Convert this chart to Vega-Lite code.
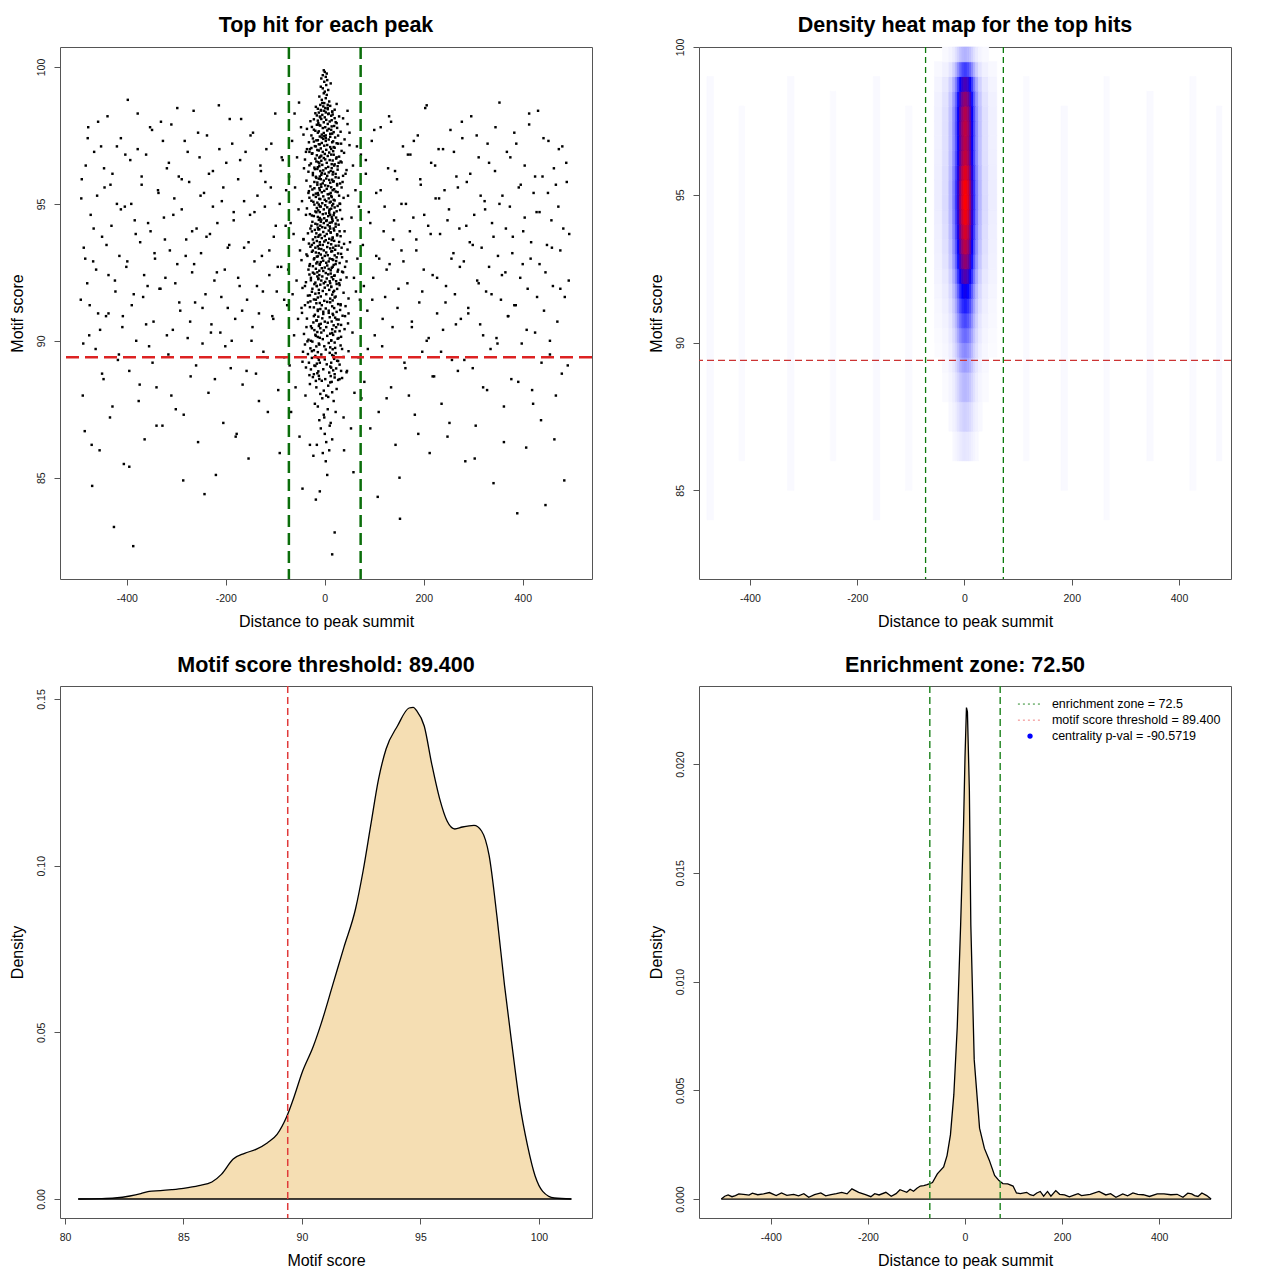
{
  "$schema": "https://vega.github.io/schema/vega-lite/v6.json",
  "background": "white",
  "padding": {"left": 8, "top": 14, "right": 5, "bottom": 5},
  "columns": 2,
  "spacing": {"row": 24, "column": 53},
  "datasets": {
    "hits": [
      {"x":-493,"y":91.5},{"x":-491,"y":95.9},{"x":-489,"y":88.0},{"x":-487,"y":93.4},{"x":-485,"y":86.7},{"x":-483,"y":96.4},{"x":-480,"y":92.1},{"x":-478,"y":97.8},{"x":-476,"y":90.2},{"x":-473,"y":94.6},{"x":-470,"y":84.7},{"x":-468,"y":92.9},{"x":-466,"y":96.9},{"x":-463,"y":89.7},{"x":-460,"y":95.3},{"x":-458,"y":91.0},{"x":-455,"y":86.0},{"x":-452,"y":97.1},{"x":-450,"y":93.8},{"x":-447,"y":88.6},{"x":-445,"y":95.6},{"x":-442,"y":90.9},{"x":-439,"y":98.2},{"x":-437,"y":92.4},{"x":-434,"y":87.2},{"x":-431,"y":94.2},{"x":-429,"y":96.1},{"x":-426,"y":83.2},{"x":-423,"y":91.8},{"x":-420,"y":95.0},{"x":-418,"y":89.3},{"x":-415,"y":93.1},{"x":-412,"y":97.4},{"x":-409,"y":90.5},{"x":-406,"y":85.5},{"x":-404,"y":94.9},{"x":-401,"y":92.7},{"x":-398,"y":98.8},{"x":-395,"y":88.9},{"x":-393,"y":96.6},{"x":-390,"y":91.3},{"x":-387,"y":82.5},{"x":-384,"y":94.4},{"x":-381,"y":90.0},{"x":-378,"y":97.0},{"x":-376,"y":87.8},{"x":-373,"y":93.6},{"x":-370,"y":95.7},{"x":-367,"y":91.6},{"x":-364,"y":86.4},{"x":-361,"y":96.8},{"x":-358,"y":92.0},{"x":-355,"y":89.8},{"x":-352,"y":94.0},{"x":-349,"y":97.7},{"x":-346,"y":90.7},{"x":-343,"y":93.0},{"x":-340,"y":88.3},{"x":-337,"y":95.5},{"x":-334,"y":91.9},{"x":-331,"y":98.0},{"x":-328,"y":86.9},{"x":-325,"y":94.5},{"x":-322,"y":92.3},{"x":-319,"y":96.3},{"x":-316,"y":89.5},{"x":-313,"y":93.3},{"x":-310,"y":97.9},{"x":-307,"y":90.4},{"x":-304,"y":95.2},{"x":-301,"y":87.5},{"x":-298,"y":92.8},{"x":-295,"y":96.0},{"x":-292,"y":91.1},{"x":-289,"y":94.8},{"x":-286,"y":84.9},{"x":-283,"y":97.3},{"x":-280,"y":93.7},{"x":-277,"y":90.1},{"x":-274,"y":95.8},{"x":-271,"y":88.7},{"x":-268,"y":92.5},{"x":-265,"y":98.4},{"x":-262,"y":91.4},{"x":-259,"y":94.1},{"x":-256,"y":86.3},{"x":-253,"y":96.7},{"x":-250,"y":93.2},{"x":-247,"y":89.9},{"x":-244,"y":95.4},{"x":-241,"y":91.7},{"x":-238,"y":97.5},{"x":-235,"y":88.1},{"x":-232,"y":93.9},{"x":-229,"y":90.6},{"x":-226,"y":96.2},{"x":-223,"y":92.2},{"x":-220,"y":85.1},{"x":-217,"y":94.3},{"x":-214,"y":98.6},{"x":-211,"y":90.3},{"x":-208,"y":95.1},{"x":-205,"y":87.0},{"x":-202,"y":92.6},{"x":-199,"y":96.5},{"x":-196,"y":91.2},{"x":-193,"y":93.5},{"x":-190,"y":89.0},{"x":-187,"y":97.2},{"x":-184,"y":94.7},{"x":-181,"y":90.8},{"x":-178,"y":86.6},{"x":-175,"y":95.9},{"x":-172,"y":92.0},{"x":-169,"y":98.1},{"x":-166,"y":88.4},{"x":-163,"y":93.4},{"x":-160,"y":96.9},{"x":-157,"y":91.5},{"x":-154,"y":85.7},{"x":-151,"y":94.6},{"x":-148,"y":90.0},{"x":-145,"y":97.6},{"x":-142,"y":92.9},{"x":-139,"y":88.8},{"x":-136,"y":95.3},{"x":-133,"y":91.0},{"x":-130,"y":96.4},{"x":-127,"y":93.1},{"x":-124,"y":89.6},{"x":-121,"y":94.9},{"x":-118,"y":97.0},{"x":-115,"y":87.4},{"x":-112,"y":92.4},{"x":-109,"y":95.6},{"x":-106,"y":90.9},{"x":-103,"y":93.8},{"x":-100,"y":98.3},{"x":-97,"y":91.8},{"x":-94,"y":88.2},{"x":-91,"y":95.0},{"x":-88,"y":92.7},{"x":-85,"y":96.6},{"x":-82,"y":89.4},{"x":-79,"y":94.2},{"x":-76,"y":91.3},
      {"x":77,"y":93.5},{"x":80,"y":88.5},{"x":83,"y":96.1},{"x":86,"y":91.1},{"x":89,"y":94.7},{"x":92,"y":86.8},{"x":95,"y":97.3},{"x":98,"y":92.3},{"x":101,"y":90.2},{"x":104,"y":95.4},{"x":107,"y":84.3},{"x":110,"y":93.0},{"x":113,"y":97.8},{"x":116,"y":89.8},{"x":119,"y":94.0},{"x":122,"y":91.6},{"x":125,"y":87.9},{"x":128,"y":96.3},{"x":131,"y":92.8},{"x":134,"y":98.0},{"x":137,"y":90.5},{"x":140,"y":94.4},{"x":143,"y":86.2},{"x":146,"y":95.9},{"x":149,"y":91.9},{"x":152,"y":83.5},{"x":155,"y":93.3},{"x":158,"y":97.1},{"x":161,"y":89.2},{"x":164,"y":95.0},{"x":167,"y":92.1},{"x":170,"y":88.0},{"x":173,"y":96.8},{"x":176,"y":90.7},{"x":179,"y":94.5},{"x":182,"y":87.3},{"x":185,"y":93.7},{"x":188,"y":97.5},{"x":191,"y":91.4},{"x":194,"y":95.7},{"x":197,"y":89.6},{"x":200,"y":92.6},{"x":203,"y":98.5},{"x":206,"y":90.0},{"x":209,"y":94.2},{"x":212,"y":85.9},{"x":215,"y":96.5},{"x":218,"y":92.4},{"x":221,"y":88.7},{"x":224,"y":95.2},{"x":227,"y":91.0},{"x":230,"y":97.0},{"x":233,"y":93.9},{"x":236,"y":87.7},{"x":239,"y":90.4},{"x":242,"y":95.5},{"x":245,"y":92.0},{"x":248,"y":86.5},{"x":251,"y":94.8},{"x":254,"y":97.7},{"x":257,"y":89.3},{"x":260,"y":93.2},{"x":263,"y":91.7},{"x":266,"y":96.0},{"x":269,"y":88.9},{"x":272,"y":94.1},{"x":275,"y":90.8},{"x":278,"y":97.4},{"x":281,"y":92.9},{"x":284,"y":85.6},{"x":287,"y":95.8},{"x":290,"y":91.2},{"x":293,"y":93.6},{"x":296,"y":98.2},{"x":299,"y":89.0},{"x":302,"y":94.6},{"x":305,"y":86.9},{"x":308,"y":92.2},{"x":311,"y":96.7},{"x":314,"y":90.6},{"x":317,"y":93.4},{"x":320,"y":88.3},{"x":323,"y":95.1},{"x":326,"y":91.8},{"x":329,"y":97.2},{"x":332,"y":92.7},{"x":335,"y":89.7},{"x":338,"y":94.3},{"x":341,"y":84.8},{"x":344,"y":96.2},{"x":347,"y":90.1},{"x":350,"y":93.1},{"x":353,"y":98.7},{"x":356,"y":91.5},{"x":359,"y":95.3},{"x":362,"y":87.6},{"x":365,"y":92.5},{"x":368,"y":96.9},{"x":371,"y":90.9},{"x":374,"y":94.9},{"x":377,"y":88.6},{"x":380,"y":93.8},{"x":383,"y":97.6},{"x":386,"y":91.3},{"x":389,"y":83.7},{"x":392,"y":95.6},{"x":395,"y":92.3},{"x":398,"y":89.9},{"x":401,"y":94.0},{"x":404,"y":96.4},{"x":407,"y":86.1},{"x":410,"y":91.9},{"x":413,"y":97.9},{"x":416,"y":93.0},{"x":419,"y":88.2},{"x":422,"y":95.4},{"x":425,"y":90.3},{"x":428,"y":94.7},{"x":431,"y":98.4},{"x":434,"y":92.8},{"x":437,"y":87.1},{"x":440,"y":96.0},{"x":443,"y":91.1},{"x":446,"y":84.0},{"x":449,"y":93.5},{"x":452,"y":97.3},{"x":455,"y":89.5},{"x":458,"y":94.4},{"x":461,"y":92.0},{"x":464,"y":86.4},{"x":467,"y":95.7},{"x":470,"y":90.7},{"x":473,"y":97.0},{"x":476,"y":93.3},{"x":479,"y":88.8},{"x":482,"y":94.1},{"x":485,"y":91.6},{"x":488,"y":96.5},{"x":491,"y":89.1},{"x":494,"y":93.9},
      {"x":-492,"y":95.2},{"x":-488,"y":89.9},{"x":-484,"y":93.0},{"x":-479,"y":97.4},{"x":-475,"y":91.3},{"x":-471,"y":86.2},{"x":-467,"y":94.1},{"x":-462,"y":92.6},{"x":-458,"y":98.0},{"x":-454,"y":90.4},{"x":-450,"y":88.8},{"x":-446,"y":96.3},{"x":-441,"y":93.5},{"x":-437,"y":91.0},{"x":-433,"y":95.7},{"x":-429,"y":87.6},{"x":-424,"y":92.2},{"x":-420,"y":97.1},{"x":-416,"y":89.5},{"x":-412,"y":94.8},{"x":-408,"y":90.9},{"x":-403,"y":96.8},{"x":-399,"y":92.9},{"x":-395,"y":85.4},{"x":-391,"y":95.0},{"x":-386,"y":91.7},{"x":-382,"y":93.9},{"x":-378,"y":98.3},{"x":-374,"y":88.4},{"x":-370,"y":96.0},{"x":-365,"y":92.4},{"x":-361,"y":90.6},{"x":-357,"y":94.3},{"x":-353,"y":97.8},{"x":-348,"y":89.2},{"x":-344,"y":93.2},{"x":-340,"y":86.9},{"x":-336,"y":95.4},{"x":-332,"y":91.9},{"x":-327,"y":97.3},{"x":-323,"y":93.7},{"x":-319,"y":90.2},{"x":-315,"y":96.5},{"x":-310,"y":88.0},{"x":-306,"y":94.6},{"x":-302,"y":92.1},{"x":-298,"y":98.5},{"x":-294,"y":91.4},{"x":-289,"y":95.9},{"x":-285,"y":87.3},{"x":-281,"y":93.1},{"x":-277,"y":96.9},{"x":-272,"y":90.7},{"x":-268,"y":94.0},{"x":-264,"y":92.8},{"x":-260,"y":89.1},{"x":-256,"y":97.6},{"x":-251,"y":95.3},{"x":-247,"y":91.2},{"x":-243,"y":84.4},{"x":-239,"y":93.8},{"x":-234,"y":96.1},{"x":-230,"y":90.3},{"x":-226,"y":94.9},{"x":-222,"y":88.6},{"x":-218,"y":92.5},{"x":-213,"y":97.0},{"x":-209,"y":91.6},{"x":-205,"y":95.6},{"x":-201,"y":89.8},{"x":-196,"y":93.4},{"x":-192,"y":98.1},{"x":-188,"y":90.0},{"x":-184,"y":94.4},{"x":-180,"y":86.5},{"x":-175,"y":92.3},{"x":-171,"y":96.6},{"x":-167,"y":91.1},{"x":-163,"y":95.1},{"x":-158,"y":88.9},{"x":-154,"y":93.6},{"x":-150,"y":97.5},{"x":-146,"y":90.5},{"x":-142,"y":94.7},{"x":-137,"y":92.0},{"x":-133,"y":87.8},{"x":-129,"y":96.2},{"x":-125,"y":91.8},{"x":-120,"y":95.8},{"x":-116,"y":89.4},{"x":-112,"y":93.3},{"x":-108,"y":97.2},{"x":-104,"y":90.8},{"x":-99,"y":94.2},{"x":-95,"y":92.7},{"x":-91,"y":85.9},{"x":-87,"y":96.7},{"x":-82,"y":91.5},{"x":-78,"y":95.5},
      {"x":79,"y":92.0},{"x":83,"y":96.6},{"x":87,"y":89.7},{"x":92,"y":94.3},{"x":96,"y":91.5},{"x":100,"y":97.7},{"x":104,"y":93.1},{"x":109,"y":87.4},{"x":113,"y":95.5},{"x":117,"y":90.8},{"x":121,"y":94.9},{"x":125,"y":92.6},{"x":130,"y":98.2},{"x":134,"y":88.3},{"x":138,"y":93.7},{"x":142,"y":96.2},{"x":147,"y":91.2},{"x":151,"y":85.0},{"x":155,"y":95.0},{"x":159,"y":92.9},{"x":163,"y":89.0},{"x":168,"y":96.8},{"x":172,"y":94.0},{"x":176,"y":90.5},{"x":180,"y":97.3},{"x":185,"y":93.3},{"x":189,"y":86.6},{"x":193,"y":95.9},{"x":197,"y":91.8},{"x":201,"y":94.6},{"x":206,"y":98.6},{"x":210,"y":90.1},{"x":214,"y":93.9},{"x":218,"y":88.7},{"x":223,"y":96.4},{"x":227,"y":92.3},{"x":231,"y":95.2},{"x":235,"y":89.6},{"x":239,"y":97.0},{"x":244,"y":91.4},{"x":248,"y":94.4},{"x":252,"y":87.0},{"x":256,"y":93.0},{"x":261,"y":96.9},{"x":265,"y":90.6},{"x":269,"y":95.6},{"x":273,"y":92.7},{"x":277,"y":98.0},{"x":282,"y":89.3},{"x":286,"y":94.2},{"x":290,"y":91.0},{"x":294,"y":96.1},{"x":299,"y":93.5},{"x":303,"y":85.7},{"x":307,"y":97.5},{"x":311,"y":92.1},{"x":315,"y":95.3},{"x":320,"y":90.2},{"x":324,"y":94.8},{"x":328,"y":88.2},{"x":332,"y":96.5},{"x":337,"y":91.7},{"x":341,"y":93.8},{"x":345,"y":97.8},{"x":349,"y":89.9},{"x":353,"y":95.0},{"x":358,"y":92.4},{"x":362,"y":86.3},{"x":366,"y":94.1},{"x":370,"y":90.9},{"x":375,"y":96.7},{"x":379,"y":93.2},{"x":383,"y":91.3},{"x":387,"y":97.2},{"x":391,"y":88.5},{"x":396,"y":95.7},{"x":400,"y":92.8},{"x":404,"y":94.5},{"x":408,"y":90.4},{"x":413,"y":98.3},{"x":417,"y":93.6},{"x":421,"y":87.7},{"x":425,"y":96.0},{"x":429,"y":91.6},{"x":434,"y":94.7},{"x":438,"y":89.2},{"x":442,"y":97.4},{"x":446,"y":92.5},{"x":451,"y":95.4},{"x":455,"y":90.0},{"x":459,"y":93.4},{"x":463,"y":96.3},{"x":467,"y":88.0},{"x":472,"y":94.9},{"x":476,"y":91.9},{"x":480,"y":97.1},{"x":484,"y":84.9},{"x":489,"y":95.8},{"x":493,"y":92.2},
      {"x":-74,"y":92.6},{"x":-72,"y":96.0},{"x":-71,"y":89.1},{"x":-69,"y":94.3},{"x":-68,"y":87.4},{"x":-66,"y":97.3},{"x":-65,"y":91.7},{"x":-63,"y":93.9},{"x":-62,"y":90.2},{"x":-60,"y":95.6},{"x":-59,"y":88.3},{"x":-57,"y":92.2},{"x":-56,"y":96.7},{"x":-54,"y":90.8},{"x":-53,"y":94.8},{"x":-51,"y":86.5},{"x":-50,"y":93.3},{"x":-48,"y":97.8},{"x":-47,"y":91.2},{"x":-46,"y":95.1},{"x":-44,"y":89.6},{"x":-43,"y":93.7},{"x":-42,"y":96.3},{"x":-40,"y":92.0},{"x":-39,"y":88.0},{"x":-38,"y":94.6},{"x":-37,"y":90.5},{"x":-36,"y":97.0},{"x":-35,"y":93.1},{"x":-34,"y":91.4},{"x":-33,"y":95.4},{"x":-32,"y":89.2},{"x":-31,"y":96.9},{"x":-30,"y":92.8},{"x":-29,"y":94.1},{"x":-28,"y":90.0},{"x":-27,"y":97.5},{"x":-26,"y":93.5},{"x":-45,"y":84.6},{"x":-61,"y":98.3},{"x":-23,"y":85.8},{"x":-52,"y":98.7},{"x":-18,"y":84.2},
      {"x":26,"y":94.4},{"x":27,"y":90.6},{"x":28,"y":96.5},{"x":29,"y":92.1},{"x":30,"y":88.6},{"x":31,"y":95.0},{"x":32,"y":91.3},{"x":33,"y":97.2},{"x":34,"y":93.4},{"x":35,"y":89.7},{"x":36,"y":95.8},{"x":37,"y":92.5},{"x":38,"y":87.2},{"x":40,"y":94.0},{"x":41,"y":90.9},{"x":42,"y":96.1},{"x":44,"y":92.9},{"x":45,"y":88.9},{"x":47,"y":95.3},{"x":48,"y":91.0},{"x":50,"y":97.6},{"x":51,"y":93.6},{"x":53,"y":86.8},{"x":54,"y":94.5},{"x":56,"y":90.3},{"x":57,"y":96.4},{"x":59,"y":92.3},{"x":60,"y":88.1},{"x":62,"y":95.5},{"x":63,"y":91.8},{"x":65,"y":97.1},{"x":66,"y":93.0},{"x":68,"y":89.4},{"x":69,"y":94.9},{"x":71,"y":91.5},{"x":73,"y":96.8},{"x":74,"y":87.9},{"x":46,"y":98.4},{"x":58,"y":85.2},{"x":20,"y":83.0},{"x":15,"y":82.2},{"x":-10,"y":84.5},{"x":5,"y":85.1},{"x":-30,"y":86.2},{"x":39,"y":86.0},
      {"x":3,"y":86.3},{"x":-8,"y":86.8},{"x":12,"y":87.0},{"x":-2,"y":87.3},{"x":6,"y":87.5},{"x":-14,"y":87.6},{"x":18,"y":87.8},{"x":-5,"y":87.9},{"x":9,"y":86.0},{"x":0,"y":86.6},{"x":-11,"y":87.1},{"x":15,"y":86.4},{"x":-20,"y":87.7},{"x":2,"y":85.6},{"x":22,"y":87.4},{"x":-4,"y":85.9},{"x":10,"y":86.9},{"x":-16,"y":86.2},{"x":7,"y":87.95},{"x":-1,"y":87.2},
      {"x":3,"y":88.00},{"x":-9,"y":88.06},{"x":15,"y":88.12},{"x":-2,"y":88.18},{"x":24,"y":88.24},{"x":-17,"y":88.30},{"x":7,"y":88.36},{"x":-30,"y":88.42},{"x":11,"y":88.48},{"x":-6,"y":88.54},{"x":1,"y":88.60},{"x":20,"y":88.66},{"x":-12,"y":88.72},{"x":-22,"y":88.78},{"x":9,"y":88.84},{"x":33,"y":88.90},{"x":-3,"y":88.96},{"x":13,"y":89.02},{"x":-19,"y":89.08},{"x":4,"y":89.14},{"x":-10,"y":89.20},{"x":27,"y":89.26},{"x":0,"y":89.32},{"x":-14,"y":89.38},{"x":18,"y":89.44},{"x":-7,"y":89.50},{"x":10,"y":89.56},{"x":-26,"y":89.62},{"x":2,"y":89.68},{"x":21,"y":89.74},{"x":-1,"y":89.80},{"x":-11,"y":89.86},{"x":8,"y":89.92},{"x":-35,"y":89.98},
      {"x":13,"y":90.02},{"x":-4,"y":90.06},{"x":28,"y":90.10},{"x":-14,"y":90.14},{"x":5,"y":90.18},{"x":-19,"y":90.22},{"x":11,"y":90.26},{"x":-7,"y":90.30},{"x":21,"y":90.34},{"x":-2,"y":90.38},{"x":15,"y":90.42},{"x":-26,"y":90.46},{"x":3,"y":90.50},{"x":-12,"y":90.54},{"x":33,"y":90.58},{"x":-8,"y":90.62},{"x":6,"y":90.66},{"x":0,"y":90.70},{"x":-16,"y":90.74},{"x":24,"y":90.78},{"x":-5,"y":90.82},{"x":10,"y":90.86},{"x":-22,"y":90.90},{"x":17,"y":90.94},{"x":-3,"y":90.98},{"x":8,"y":91.02},{"x":-3,"y":91.06},{"x":8,"y":91.10},{"x":-14,"y":91.14},{"x":2,"y":91.18},{"x":-22,"y":91.22},{"x":15,"y":91.26},{"x":-6,"y":91.30},{"x":27,"y":91.34},{"x":-10,"y":91.38},{"x":5,"y":91.42},{"x":-1,"y":91.46},{"x":-18,"y":91.50},{"x":11,"y":91.54},{"x":20,"y":91.58},{"x":-8,"y":91.62},{"x":-30,"y":91.66},{"x":3,"y":91.70},{"x":-12,"y":91.74},{"x":17,"y":91.78},{"x":-4,"y":91.82},{"x":9,"y":91.86},{"x":-25,"y":91.90},{"x":0,"y":91.94},{"x":13,"y":91.98},
      {"x":-16,"y":92.000},{"x":6,"y":92.025},{"x":-9,"y":92.050},{"x":24,"y":92.075},{"x":-2,"y":92.100},{"x":-19,"y":92.125},{"x":1,"y":92.150},{"x":10,"y":92.175},{"x":-7,"y":92.200},{"x":32,"y":92.225},{"x":-13,"y":92.250},{"x":4,"y":92.275},{"x":-28,"y":92.300},{"x":14,"y":92.325},{"x":-5,"y":92.350},{"x":19,"y":92.375},{"x":-11,"y":92.400},{"x":7,"y":92.425},{"x":-21,"y":92.450},{"x":2,"y":92.475},{"x":-15,"y":92.500},{"x":26,"y":92.525},{"x":-3,"y":92.550},{"x":12,"y":92.575},{"x":-33,"y":92.600},{"x":8,"y":92.625},{"x":-6,"y":92.650},{"x":0,"y":92.675},{"x":16,"y":92.700},{"x":-24,"y":92.725},{"x":5,"y":92.750},{"x":-10,"y":92.775},{"x":22,"y":92.800},{"x":-17,"y":92.825},{"x":3,"y":92.850},{"x":-8,"y":92.875},
      {"x":8,"y":92.900},{"x":-3,"y":92.925},{"x":17,"y":92.950},{"x":-22,"y":92.975},{"x":10,"y":93.000},{"x":-5,"y":93.025},{"x":24,"y":93.050},{"x":-16,"y":93.075},{"x":0,"y":93.100},{"x":6,"y":93.125},{"x":-8,"y":93.150},{"x":33,"y":93.175},{"x":-12,"y":93.200},{"x":3,"y":93.225},{"x":-26,"y":93.250},{"x":15,"y":93.275},{"x":-2,"y":93.300},{"x":21,"y":93.325},{"x":-7,"y":93.350},{"x":11,"y":93.375},{"x":-19,"y":93.400},{"x":5,"y":93.425},{"x":-14,"y":93.450},{"x":28,"y":93.475},{"x":-4,"y":93.500},{"x":13,"y":93.525},{"x":-32,"y":93.550},{"x":7,"y":93.575},{"x":-10,"y":93.600},{"x":-1,"y":93.625},{"x":19,"y":93.650},{"x":2,"y":93.675},{"x":-24,"y":93.700},{"x":9,"y":93.725},{"x":-6,"y":93.750},{"x":16,"y":93.775},{"x":-13,"y":93.800},{"x":0,"y":93.825},{"x":25,"y":93.850},{"x":-9,"y":93.875},{"x":4,"y":93.900},{"x":-17,"y":93.925},{"x":12,"y":93.950},{"x":-3,"y":93.975},{"x":30,"y":94.000},{"x":8,"y":94.025},{"x":-20,"y":94.050},{"x":-11,"y":94.075},{"x":18,"y":94.100},{"x":1,"y":94.125},{"x":-5,"y":94.150},{"x":10,"y":94.175},{"x":-27,"y":94.200},{"x":6,"y":94.225},{"x":-15,"y":94.250},{"x":22,"y":94.275},{"x":-2,"y":94.300},{"x":14,"y":94.325},{"x":-8,"y":94.350},{"x":3,"y":94.375},
      {"x":4,"y":94.400},{"x":-7,"y":94.425},{"x":15,"y":94.450},{"x":-1,"y":94.475},{"x":23,"y":94.500},{"x":-14,"y":94.525},{"x":7,"y":94.550},{"x":-26,"y":94.575},{"x":11,"y":94.600},{"x":-4,"y":94.625},{"x":2,"y":94.650},{"x":19,"y":94.675},{"x":-10,"y":94.700},{"x":-19,"y":94.725},{"x":9,"y":94.750},{"x":31,"y":94.775},{"x":-2,"y":94.800},{"x":13,"y":94.825},{"x":-16,"y":94.850},{"x":5,"y":94.875},{"x":-8,"y":94.900},{"x":26,"y":94.925},{"x":1,"y":94.950},{"x":-12,"y":94.975},{"x":17,"y":95.000},{"x":-5,"y":95.025},{"x":10,"y":95.050},{"x":-23,"y":95.075},{"x":3,"y":95.100},{"x":20,"y":95.125},{"x":0,"y":95.150},{"x":-9,"y":95.175},{"x":8,"y":95.200},{"x":-31,"y":95.225},{"x":14,"y":95.250},{"x":-3,"y":95.275},{"x":29,"y":95.300},{"x":-13,"y":95.325},{"x":6,"y":95.350},{"x":-18,"y":95.375},{"x":12,"y":95.400},{"x":-6,"y":95.425},{"x":22,"y":95.450},{"x":-1,"y":95.475},{"x":16,"y":95.500},{"x":-25,"y":95.525},{"x":4,"y":95.550},{"x":-11,"y":95.575},{"x":34,"y":95.600},{"x":-7,"y":95.625},{"x":7,"y":95.650},{"x":1,"y":95.675},{"x":-15,"y":95.700},{"x":25,"y":95.725},{"x":-4,"y":95.750},{"x":11,"y":95.775},{"x":-21,"y":95.800},{"x":18,"y":95.825},{"x":-2,"y":95.850},{"x":9,"y":95.875},
      {"x":-8,"y":95.900},{"x":3,"y":95.925},{"x":-17,"y":95.950},{"x":22,"y":95.975},{"x":-10,"y":96.000},{"x":5,"y":96.025},{"x":-24,"y":96.050},{"x":16,"y":96.075},{"x":0,"y":96.100},{"x":-6,"y":96.125},{"x":8,"y":96.150},{"x":-33,"y":96.175},{"x":12,"y":96.200},{"x":-3,"y":96.225},{"x":26,"y":96.250},{"x":-15,"y":96.275},{"x":2,"y":96.300},{"x":-21,"y":96.325},{"x":7,"y":96.350},{"x":-11,"y":96.375},{"x":19,"y":96.400},{"x":-5,"y":96.425},{"x":14,"y":96.450},{"x":-28,"y":96.475},{"x":4,"y":96.500},{"x":-13,"y":96.525},{"x":32,"y":96.550},{"x":-7,"y":96.575},{"x":10,"y":96.600},{"x":1,"y":96.625},{"x":-19,"y":96.650},{"x":-2,"y":96.675},{"x":24,"y":96.700},{"x":-9,"y":96.725},{"x":6,"y":96.750},{"x":-16,"y":96.775},{"x":13,"y":96.800},{"x":0,"y":96.825},{"x":-25,"y":96.850},{"x":9,"y":96.875},{"x":-4,"y":96.900},{"x":17,"y":96.925},{"x":-12,"y":96.950},{"x":3,"y":96.975},{"x":-30,"y":97.000},{"x":-8,"y":97.025},{"x":20,"y":97.050},{"x":11,"y":97.075},{"x":-18,"y":97.100},{"x":-1,"y":97.125},{"x":5,"y":97.150},{"x":-10,"y":97.175},{"x":27,"y":97.200},{"x":-6,"y":97.225},{"x":15,"y":97.250},{"x":-22,"y":97.275},{"x":2,"y":97.300},{"x":-14,"y":97.325},{"x":8,"y":97.350},{"x":-3,"y":97.375},{"x":2,"y":97.400},{"x":-6,"y":97.425},{"x":11,"y":97.450},{"x":-1,"y":97.475},
      {"x":2,"y":97.50},{"x":-6,"y":97.53},{"x":11,"y":97.56},{"x":-2,"y":97.59},{"x":18,"y":97.62},{"x":-12,"y":97.65},{"x":5,"y":97.68},{"x":-22,"y":97.71},{"x":8,"y":97.74},{"x":-4,"y":97.77},{"x":1,"y":97.80},{"x":14,"y":97.83},{"x":-9,"y":97.86},{"x":-16,"y":97.89},{"x":6,"y":97.92},{"x":24,"y":97.95},{"x":-2,"y":97.98},{"x":10,"y":98.01},{"x":-14,"y":98.04},{"x":3,"y":98.07},{"x":-7,"y":98.10},{"x":20,"y":98.13},{"x":0,"y":98.16},{"x":-10,"y":98.19},{"x":13,"y":98.22},{"x":-5,"y":98.25},{"x":7,"y":98.28},{"x":-19,"y":98.31},{"x":2,"y":98.34},{"x":15,"y":98.37},{"x":-1,"y":98.40},{"x":-8,"y":98.43},{"x":6,"y":98.46},
      {"x":1,"y":98.50},{"x":-3,"y":98.56},{"x":6,"y":98.62},{"x":-1,"y":98.68},{"x":9,"y":98.74},{"x":-6,"y":98.80},{"x":2,"y":98.86},{"x":-11,"y":98.92},{"x":4,"y":98.98},{"x":-2,"y":99.04},{"x":0,"y":99.10},{"x":7,"y":99.16},{"x":-4,"y":99.22},{"x":-8,"y":99.28},{"x":3,"y":99.34},{"x":12,"y":99.40},{"x":-1,"y":99.46},{"x":5,"y":99.52},{"x":-7,"y":99.58},{"x":2,"y":99.64},{"x":-4,"y":99.70},{"x":4,"y":99.76},{"x":0,"y":99.82},{"x":-2,"y":99.88},
      {"x":14,"y":88.5},{"x":-18,"y":88.535},{"x":27,"y":88.57},{"x":-11,"y":88.605},{"x":35,"y":88.64},{"x":-24,"y":88.675},{"x":12,"y":88.71},{"x":-31,"y":88.745},{"x":20,"y":88.78},{"x":-15,"y":88.815},{"x":44,"y":88.85},{"x":-13,"y":88.885},{"x":17,"y":88.92},{"x":-28,"y":88.955},{"x":23,"y":88.99},{"x":-38,"y":89.025},{"x":11,"y":89.06},{"x":-21,"y":89.095},{"x":30,"y":89.13},{"x":-16,"y":89.165},{"x":13,"y":89.2},{"x":-45,"y":89.235},{"x":25,"y":89.27},{"x":-12,"y":89.305},{"x":19,"y":89.34},{"x":-26,"y":89.375},{"x":38,"y":89.41},{"x":-19,"y":89.445},{"x":15,"y":89.48},{"x":-34,"y":89.515},{"x":22,"y":89.55},{"x":-14,"y":89.585},{"x":48,"y":89.62},{"x":-22,"y":89.655},{"x":16,"y":89.69},{"x":-29,"y":89.725},{"x":11,"y":89.76},{"x":-17,"y":89.795},{"x":32,"y":89.83},{"x":-40,"y":89.865},
      {"x":-12,"y":89.9},{"x":20,"y":89.935},{"x":-25,"y":89.97},{"x":13,"y":90.005},{"x":-33,"y":90.04},{"x":26,"y":90.075},{"x":-10,"y":90.11},{"x":33,"y":90.145},{"x":-18,"y":90.18},{"x":17,"y":90.215},{"x":-42,"y":90.25},{"x":15,"y":90.285},{"x":-15,"y":90.32},{"x":30,"y":90.355},{"x":-21,"y":90.39},{"x":40,"y":90.425},{"x":-9,"y":90.46},{"x":23,"y":90.495},{"x":-28,"y":90.53},{"x":18,"y":90.565},{"x":-11,"y":90.6},{"x":47,"y":90.635},{"x":-23,"y":90.67},{"x":14,"y":90.705},{"x":-17,"y":90.74},{"x":28,"y":90.775},{"x":-36,"y":90.81},{"x":21,"y":90.845},{"x":-13,"y":90.88},{"x":36,"y":90.915},{"x":-20,"y":90.95},{"x":16,"y":90.985},{"x":-46,"y":91.02},{"x":24,"y":91.055},{"x":-14,"y":91.09},{"x":31,"y":91.125},{"x":-9,"y":91.16},{"x":19,"y":91.195},{"x":-30,"y":91.23},{"x":42,"y":91.265},
      {"x":-40,"y":91.3},{"x":32,"y":91.335},{"x":-17,"y":91.37},{"x":11,"y":91.405},{"x":-29,"y":91.44},{"x":16,"y":91.475},{"x":-22,"y":91.51},{"x":48,"y":91.545},{"x":-14,"y":91.58},{"x":22,"y":91.615},{"x":-34,"y":91.65},{"x":15,"y":91.685},{"x":-19,"y":91.72},{"x":38,"y":91.755},{"x":-26,"y":91.79},{"x":19,"y":91.825},{"x":-12,"y":91.86},{"x":25,"y":91.895},{"x":-45,"y":91.93},{"x":13,"y":91.965},{"x":-16,"y":92.0},{"x":30,"y":92.035},{"x":-21,"y":92.07},{"x":11,"y":92.105},{"x":-38,"y":92.14},{"x":23,"y":92.175},{"x":-28,"y":92.21},{"x":17,"y":92.245},{"x":-13,"y":92.28},{"x":44,"y":92.315},{"x":-15,"y":92.35},{"x":20,"y":92.385},{"x":-31,"y":92.42},{"x":12,"y":92.455},{"x":-24,"y":92.49},{"x":35,"y":92.525},{"x":-11,"y":92.56},{"x":27,"y":92.595},{"x":-18,"y":92.63},{"x":14,"y":92.665},
      {"x":41,"y":92.7},{"x":-31,"y":92.735},{"x":18,"y":92.77},{"x":-10,"y":92.805},{"x":30,"y":92.84},{"x":-15,"y":92.875},{"x":23,"y":92.91},{"x":-47,"y":92.945},{"x":15,"y":92.98},{"x":-21,"y":93.015},{"x":35,"y":93.05},{"x":-14,"y":93.085},{"x":20,"y":93.12},{"x":-37,"y":93.155},{"x":27,"y":93.19},{"x":-18,"y":93.225},{"x":13,"y":93.26},{"x":-24,"y":93.295},{"x":46,"y":93.33},{"x":-12,"y":93.365},{"x":17,"y":93.4},{"x":-29,"y":93.435},{"x":22,"y":93.47},{"x":-10,"y":93.505},{"x":39,"y":93.54},{"x":-22,"y":93.575},{"x":29,"y":93.61},{"x":-16,"y":93.645},{"x":14,"y":93.68},{"x":-43,"y":93.715},{"x":16,"y":93.75},{"x":-19,"y":93.785},{"x":32,"y":93.82},{"x":-11,"y":93.855},{"x":25,"y":93.89},{"x":-34,"y":93.925},{"x":12,"y":93.96},{"x":-26,"y":93.995},{"x":19,"y":94.03},{"x":-13,"y":94.065},
      {"x":11,"y":94.1},{"x":-14,"y":94.135},{"x":22,"y":94.17},{"x":-9,"y":94.205},{"x":28,"y":94.24},{"x":-19,"y":94.275},{"x":10,"y":94.31},{"x":-25,"y":94.345},{"x":16,"y":94.38},{"x":-12,"y":94.415},{"x":35,"y":94.45},{"x":-10,"y":94.485},{"x":14,"y":94.52},{"x":-22,"y":94.555},{"x":18,"y":94.59},{"x":-30,"y":94.625},{"x":9,"y":94.66},{"x":-17,"y":94.695},{"x":24,"y":94.73},{"x":-13,"y":94.765},{"x":10,"y":94.8},{"x":-36,"y":94.835},{"x":20,"y":94.87},{"x":-10,"y":94.905},{"x":15,"y":94.94},{"x":-21,"y":94.975},{"x":30,"y":95.01},{"x":-15,"y":95.045},{"x":12,"y":95.08},{"x":-27,"y":95.115},{"x":18,"y":95.15},{"x":-11,"y":95.185},{"x":38,"y":95.22},{"x":-18,"y":95.255},{"x":13,"y":95.29},{"x":-23,"y":95.325},{"x":9,"y":95.36},{"x":-14,"y":95.395},{"x":26,"y":95.43},{"x":-32,"y":95.465},
      {"x":-10,"y":95.5},{"x":19,"y":95.535},{"x":-21,"y":95.57},{"x":13,"y":95.605},{"x":-29,"y":95.64},{"x":25,"y":95.675},{"x":-8,"y":95.71},{"x":31,"y":95.745},{"x":-15,"y":95.78},{"x":17,"y":95.815},{"x":-37,"y":95.85},{"x":15,"y":95.885},{"x":-12,"y":95.92},{"x":28,"y":95.955},{"x":-18,"y":95.99},{"x":37,"y":96.025},{"x":-7,"y":96.06},{"x":22,"y":96.095},{"x":-24,"y":96.13},{"x":17,"y":96.165},{"x":-9,"y":96.2},{"x":44,"y":96.235},{"x":-20,"y":96.27},{"x":14,"y":96.305},{"x":-14,"y":96.34},{"x":26,"y":96.375},{"x":-31,"y":96.41},{"x":20,"y":96.445},{"x":-11,"y":96.48},{"x":34,"y":96.515},{"x":-17,"y":96.55},{"x":16,"y":96.585},{"x":-40,"y":96.62},{"x":23,"y":96.655},{"x":-11,"y":96.69},{"x":29,"y":96.725},{"x":-7,"y":96.76},{"x":18,"y":96.795},{"x":-26,"y":96.83},{"x":39,"y":96.865},
      {"x":-38,"y":96.9},{"x":34,"y":96.935},{"x":-15,"y":96.97},{"x":13,"y":97.005},{"x":-27,"y":97.04},{"x":18,"y":97.075},{"x":-20,"y":97.11},{"x":50,"y":97.145},{"x":-12,"y":97.18},{"x":24,"y":97.215},{"x":-32,"y":97.25},{"x":17,"y":97.285},{"x":-17,"y":97.32},{"x":40,"y":97.355},{"x":-24,"y":97.39},{"x":21,"y":97.425},{"x":-10,"y":97.46},{"x":27,"y":97.495},{"x":-43,"y":97.53},{"x":15,"y":97.565},{"x":-14,"y":97.6},{"x":32,"y":97.635},{"x":-19,"y":97.67},{"x":13,"y":97.705},{"x":-36,"y":97.74},{"x":25,"y":97.775},{"x":-26,"y":97.81},{"x":19,"y":97.845},{"x":-11,"y":97.88},{"x":46,"y":97.915},{"x":-13,"y":97.95},{"x":22,"y":97.985},{"x":-29,"y":98.02},{"x":14,"y":98.055},{"x":-22,"y":98.09},{"x":37,"y":98.125},{"x":-9,"y":98.16},{"x":29,"y":98.195},{"x":-16,"y":98.23},{"x":16,"y":98.265},
      {"x":8,"y":98.3},{"x":-12,"y":98.335},{"x":15,"y":98.37},{"x":-7,"y":98.405},{"x":20,"y":98.44},{"x":-14,"y":98.475},{"x":6,"y":98.51},{"x":-18,"y":98.545},{"x":11,"y":98.58},{"x":-9,"y":98.615},{"x":24,"y":98.65},{"x":-5,"y":98.685}
    ],
    "heat": [
      {"x1":-480,"x2":-468,"y1":84,"y2":99,"d":0.012},{"x1":-420,"x2":-410,"y1":86,"y2":98,"d":0.01},{"x1":-330,"x2":-318,"y1":85,"y2":99,"d":0.012},{"x1":-250,"x2":-240,"y1":86,"y2":98.5,"d":0.01},{"x1":-170,"x2":-158,"y1":84,"y2":99,"d":0.012},{"x1":-110,"x2":-98,"y1":85,"y2":98,"d":0.01},{"x1":110,"x2":120,"y1":86,"y2":99,"d":0.01},{"x1":180,"x2":192,"y1":85,"y2":98,"d":0.012},{"x1":260,"x2":270,"y1":84,"y2":99,"d":0.01},{"x1":340,"x2":352,"y1":86,"y2":98.5,"d":0.012},{"x1":420,"x2":432,"y1":85,"y2":99,"d":0.01},{"x1":470,"x2":480,"y1":86,"y2":98,"d":0.012},
      {"x1":-22,"x2":-17,"y1":86,"y2":87,"d":0.0125},{"x1":-17,"x2":-13,"y1":86,"y2":87,"d":0.02},{"x1":-13,"x2":-9,"y1":86,"y2":87,"d":0.03},{"x1":-9,"x2":-5,"y1":86,"y2":87,"d":0.04},{"x1":-5,"x2":-1,"y1":86,"y2":87,"d":0.047},{"x1":-1,"x2":5,"y1":86,"y2":87,"d":0.05},{"x1":5,"x2":9,"y1":86,"y2":87,"d":0.047},{"x1":9,"x2":13,"y1":86,"y2":87,"d":0.04},{"x1":13,"x2":17,"y1":86,"y2":87,"d":0.03},{"x1":17,"x2":21,"y1":86,"y2":87,"d":0.02},{"x1":21,"x2":26,"y1":86,"y2":87,"d":0.0125},
      {"x1":-29,"x2":-22,"y1":87,"y2":88,"d":0.013},{"x1":-22,"x2":-17,"y1":87,"y2":88,"d":0.023},{"x1":-17,"x2":-13,"y1":87,"y2":88,"d":0.036},{"x1":-13,"x2":-9,"y1":87,"y2":88,"d":0.054},{"x1":-9,"x2":-5,"y1":87,"y2":88,"d":0.072},{"x1":-5,"x2":-1,"y1":87,"y2":88,"d":0.085},{"x1":-1,"x2":5,"y1":87,"y2":88,"d":0.09},{"x1":5,"x2":9,"y1":87,"y2":88,"d":0.085},{"x1":9,"x2":13,"y1":87,"y2":88,"d":0.072},{"x1":13,"x2":17,"y1":87,"y2":88,"d":0.054},{"x1":17,"x2":21,"y1":87,"y2":88,"d":0.036},{"x1":21,"x2":26,"y1":87,"y2":88,"d":0.023},{"x1":26,"x2":33,"y1":87,"y2":88,"d":0.013},
      {"x1":-41,"x2":-29,"y1":88,"y2":89,"d":0.01},{"x1":-29,"x2":-22,"y1":88,"y2":89,"d":0.02},{"x1":-22,"x2":-17,"y1":88,"y2":89,"d":0.035},{"x1":-17,"x2":-13,"y1":88,"y2":89,"d":0.056},{"x1":-13,"x2":-9,"y1":88,"y2":89,"d":0.084},{"x1":-9,"x2":-5,"y1":88,"y2":89,"d":0.112},{"x1":-5,"x2":-1,"y1":88,"y2":89,"d":0.132},{"x1":-1,"x2":5,"y1":88,"y2":89,"d":0.14},{"x1":5,"x2":9,"y1":88,"y2":89,"d":0.132},{"x1":9,"x2":13,"y1":88,"y2":89,"d":0.112},{"x1":13,"x2":17,"y1":88,"y2":89,"d":0.084},{"x1":17,"x2":21,"y1":88,"y2":89,"d":0.056},{"x1":21,"x2":26,"y1":88,"y2":89,"d":0.035},{"x1":26,"x2":33,"y1":88,"y2":89,"d":0.02},{"x1":33,"x2":45,"y1":88,"y2":89,"d":0.01},
      {"x1":-41,"x2":-29,"y1":89,"y2":89.5,"d":0.013},{"x1":-29,"x2":-22,"y1":89,"y2":89.5,"d":0.027},{"x1":-22,"x2":-17,"y1":89,"y2":89.5,"d":0.048},{"x1":-17,"x2":-13,"y1":89,"y2":89.5,"d":0.076},{"x1":-13,"x2":-9,"y1":89,"y2":89.5,"d":0.114},{"x1":-9,"x2":-5,"y1":89,"y2":89.5,"d":0.152},{"x1":-5,"x2":-1,"y1":89,"y2":89.5,"d":0.179},{"x1":-1,"x2":5,"y1":89,"y2":89.5,"d":0.19},{"x1":5,"x2":9,"y1":89,"y2":89.5,"d":0.179},{"x1":9,"x2":13,"y1":89,"y2":89.5,"d":0.152},{"x1":13,"x2":17,"y1":89,"y2":89.5,"d":0.114},{"x1":17,"x2":21,"y1":89,"y2":89.5,"d":0.076},{"x1":21,"x2":26,"y1":89,"y2":89.5,"d":0.048},{"x1":26,"x2":33,"y1":89,"y2":89.5,"d":0.027},{"x1":33,"x2":45,"y1":89,"y2":89.5,"d":0.013},
      {"x1":-56,"x2":-41,"y1":89.5,"y2":90,"d":0.008},{"x1":-41,"x2":-29,"y1":89.5,"y2":90,"d":0.016},{"x1":-29,"x2":-22,"y1":89.5,"y2":90,"d":0.032},{"x1":-22,"x2":-17,"y1":89.5,"y2":90,"d":0.058},{"x1":-17,"x2":-13,"y1":89.5,"y2":90,"d":0.092},{"x1":-13,"x2":-9,"y1":89.5,"y2":90,"d":0.138},{"x1":-9,"x2":-5,"y1":89.5,"y2":90,"d":0.184},{"x1":-5,"x2":-1,"y1":89.5,"y2":90,"d":0.216},{"x1":-1,"x2":5,"y1":89.5,"y2":90,"d":0.23},{"x1":5,"x2":9,"y1":89.5,"y2":90,"d":0.216},{"x1":9,"x2":13,"y1":89.5,"y2":90,"d":0.184},{"x1":13,"x2":17,"y1":89.5,"y2":90,"d":0.138},{"x1":17,"x2":21,"y1":89.5,"y2":90,"d":0.092},{"x1":21,"x2":26,"y1":89.5,"y2":90,"d":0.058},{"x1":26,"x2":33,"y1":89.5,"y2":90,"d":0.032},{"x1":33,"x2":45,"y1":89.5,"y2":90,"d":0.016},{"x1":45,"x2":60,"y1":89.5,"y2":90,"d":0.008},
      {"x1":-56,"x2":-41,"y1":90,"y2":90.5,"d":0.01},{"x1":-41,"x2":-29,"y1":90,"y2":90.5,"d":0.02},{"x1":-29,"x2":-22,"y1":90,"y2":90.5,"d":0.041},{"x1":-22,"x2":-17,"y1":90,"y2":90.5,"d":0.073},{"x1":-17,"x2":-13,"y1":90,"y2":90.5,"d":0.116},{"x1":-13,"x2":-9,"y1":90,"y2":90.5,"d":0.174},{"x1":-9,"x2":-5,"y1":90,"y2":90.5,"d":0.232},{"x1":-5,"x2":-1,"y1":90,"y2":90.5,"d":0.273},{"x1":-1,"x2":5,"y1":90,"y2":90.5,"d":0.29},{"x1":5,"x2":9,"y1":90,"y2":90.5,"d":0.273},{"x1":9,"x2":13,"y1":90,"y2":90.5,"d":0.232},{"x1":13,"x2":17,"y1":90,"y2":90.5,"d":0.174},{"x1":17,"x2":21,"y1":90,"y2":90.5,"d":0.116},{"x1":21,"x2":26,"y1":90,"y2":90.5,"d":0.073},{"x1":26,"x2":33,"y1":90,"y2":90.5,"d":0.041},{"x1":33,"x2":45,"y1":90,"y2":90.5,"d":0.02},{"x1":45,"x2":60,"y1":90,"y2":90.5,"d":0.01},
      {"x1":-56,"x2":-41,"y1":90.5,"y2":91,"d":0.013},{"x1":-41,"x2":-29,"y1":90.5,"y2":91,"d":0.025},{"x1":-29,"x2":-22,"y1":90.5,"y2":91,"d":0.05},{"x1":-22,"x2":-17,"y1":90.5,"y2":91,"d":0.09},{"x1":-17,"x2":-13,"y1":90.5,"y2":91,"d":0.144},{"x1":-13,"x2":-9,"y1":90.5,"y2":91,"d":0.216},{"x1":-9,"x2":-5,"y1":90.5,"y2":91,"d":0.288},{"x1":-5,"x2":-1,"y1":90.5,"y2":91,"d":0.338},{"x1":-1,"x2":5,"y1":90.5,"y2":91,"d":0.36},{"x1":5,"x2":9,"y1":90.5,"y2":91,"d":0.338},{"x1":9,"x2":13,"y1":90.5,"y2":91,"d":0.288},{"x1":13,"x2":17,"y1":90.5,"y2":91,"d":0.216},{"x1":17,"x2":21,"y1":90.5,"y2":91,"d":0.144},{"x1":21,"x2":26,"y1":90.5,"y2":91,"d":0.09},{"x1":26,"x2":33,"y1":90.5,"y2":91,"d":0.05},{"x1":33,"x2":45,"y1":90.5,"y2":91,"d":0.025},{"x1":45,"x2":60,"y1":90.5,"y2":91,"d":0.013},
      {"x1":-56,"x2":-41,"y1":91,"y2":91.5,"d":0.015},{"x1":-41,"x2":-29,"y1":91,"y2":91.5,"d":0.031},{"x1":-29,"x2":-22,"y1":91,"y2":91.5,"d":0.062},{"x1":-22,"x2":-17,"y1":91,"y2":91.5,"d":0.11},{"x1":-17,"x2":-13,"y1":91,"y2":91.5,"d":0.176},{"x1":-13,"x2":-9,"y1":91,"y2":91.5,"d":0.264},{"x1":-9,"x2":-5,"y1":91,"y2":91.5,"d":0.352},{"x1":-5,"x2":-1,"y1":91,"y2":91.5,"d":0.414},{"x1":-1,"x2":5,"y1":91,"y2":91.5,"d":0.44},{"x1":5,"x2":9,"y1":91,"y2":91.5,"d":0.414},{"x1":9,"x2":13,"y1":91,"y2":91.5,"d":0.352},{"x1":13,"x2":17,"y1":91,"y2":91.5,"d":0.264},{"x1":17,"x2":21,"y1":91,"y2":91.5,"d":0.176},{"x1":21,"x2":26,"y1":91,"y2":91.5,"d":0.11},{"x1":26,"x2":33,"y1":91,"y2":91.5,"d":0.062},{"x1":33,"x2":45,"y1":91,"y2":91.5,"d":0.031},{"x1":45,"x2":60,"y1":91,"y2":91.5,"d":0.015},
      {"x1":-56,"x2":-41,"y1":91.5,"y2":92,"d":0.019},{"x1":-41,"x2":-29,"y1":91.5,"y2":92,"d":0.037},{"x1":-29,"x2":-22,"y1":91.5,"y2":92,"d":0.074},{"x1":-22,"x2":-17,"y1":91.5,"y2":92,"d":0.133},{"x1":-17,"x2":-13,"y1":91.5,"y2":92,"d":0.212},{"x1":-13,"x2":-9,"y1":91.5,"y2":92,"d":0.318},{"x1":-9,"x2":-5,"y1":91.5,"y2":92,"d":0.424},{"x1":-5,"x2":-1,"y1":91.5,"y2":92,"d":0.498},{"x1":-1,"x2":5,"y1":91.5,"y2":92,"d":0.53},{"x1":5,"x2":9,"y1":91.5,"y2":92,"d":0.498},{"x1":9,"x2":13,"y1":91.5,"y2":92,"d":0.424},{"x1":13,"x2":17,"y1":91.5,"y2":92,"d":0.318},{"x1":17,"x2":21,"y1":91.5,"y2":92,"d":0.212},{"x1":21,"x2":26,"y1":91.5,"y2":92,"d":0.133},{"x1":26,"x2":33,"y1":91.5,"y2":92,"d":0.074},{"x1":33,"x2":45,"y1":91.5,"y2":92,"d":0.037},{"x1":45,"x2":60,"y1":91.5,"y2":92,"d":0.019},
      {"x1":-56,"x2":-41,"y1":92,"y2":92.5,"d":0.023},{"x1":-41,"x2":-29,"y1":92,"y2":92.5,"d":0.046},{"x1":-29,"x2":-22,"y1":92,"y2":92.5,"d":0.092},{"x1":-22,"x2":-17,"y1":92,"y2":92.5,"d":0.165},{"x1":-17,"x2":-13,"y1":92,"y2":92.5,"d":0.264},{"x1":-13,"x2":-9,"y1":92,"y2":92.5,"d":0.396},{"x1":-9,"x2":-5,"y1":92,"y2":92.5,"d":0.528},{"x1":-5,"x2":-1,"y1":92,"y2":92.5,"d":0.62},{"x1":-1,"x2":5,"y1":92,"y2":92.5,"d":0.66},{"x1":5,"x2":9,"y1":92,"y2":92.5,"d":0.62},{"x1":9,"x2":13,"y1":92,"y2":92.5,"d":0.528},{"x1":13,"x2":17,"y1":92,"y2":92.5,"d":0.396},{"x1":17,"x2":21,"y1":92,"y2":92.5,"d":0.264},{"x1":21,"x2":26,"y1":92,"y2":92.5,"d":0.165},{"x1":26,"x2":33,"y1":92,"y2":92.5,"d":0.092},{"x1":33,"x2":45,"y1":92,"y2":92.5,"d":0.046},{"x1":45,"x2":60,"y1":92,"y2":92.5,"d":0.023},
      {"x1":-56,"x2":-41,"y1":92.5,"y2":93,"d":0.027},{"x1":-41,"x2":-29,"y1":92.5,"y2":93,"d":0.055},{"x1":-29,"x2":-22,"y1":92.5,"y2":93,"d":0.109},{"x1":-22,"x2":-17,"y1":92.5,"y2":93,"d":0.195},{"x1":-17,"x2":-13,"y1":92.5,"y2":93,"d":0.312},{"x1":-13,"x2":-9,"y1":92.5,"y2":93,"d":0.468},{"x1":-9,"x2":-5,"y1":92.5,"y2":93,"d":0.624},{"x1":-5,"x2":-1,"y1":92.5,"y2":93,"d":0.733},{"x1":-1,"x2":5,"y1":92.5,"y2":93,"d":0.78},{"x1":5,"x2":9,"y1":92.5,"y2":93,"d":0.733},{"x1":9,"x2":13,"y1":92.5,"y2":93,"d":0.624},{"x1":13,"x2":17,"y1":92.5,"y2":93,"d":0.468},{"x1":17,"x2":21,"y1":92.5,"y2":93,"d":0.312},{"x1":21,"x2":26,"y1":92.5,"y2":93,"d":0.195},{"x1":26,"x2":33,"y1":92.5,"y2":93,"d":0.109},{"x1":33,"x2":45,"y1":92.5,"y2":93,"d":0.055},{"x1":45,"x2":60,"y1":92.5,"y2":93,"d":0.027},
      {"x1":-56,"x2":-41,"y1":93,"y2":93.5,"d":0.03},{"x1":-41,"x2":-29,"y1":93,"y2":93.5,"d":0.06},{"x1":-29,"x2":-22,"y1":93,"y2":93.5,"d":0.12},{"x1":-22,"x2":-17,"y1":93,"y2":93.5,"d":0.215},{"x1":-17,"x2":-13,"y1":93,"y2":93.5,"d":0.344},{"x1":-13,"x2":-9,"y1":93,"y2":93.5,"d":0.516},{"x1":-9,"x2":-5,"y1":93,"y2":93.5,"d":0.688},{"x1":-5,"x2":-1,"y1":93,"y2":93.5,"d":0.808},{"x1":-1,"x2":5,"y1":93,"y2":93.5,"d":0.86},{"x1":5,"x2":9,"y1":93,"y2":93.5,"d":0.808},{"x1":9,"x2":13,"y1":93,"y2":93.5,"d":0.688},{"x1":13,"x2":17,"y1":93,"y2":93.5,"d":0.516},{"x1":17,"x2":21,"y1":93,"y2":93.5,"d":0.344},{"x1":21,"x2":26,"y1":93,"y2":93.5,"d":0.215},{"x1":26,"x2":33,"y1":93,"y2":93.5,"d":0.12},{"x1":33,"x2":45,"y1":93,"y2":93.5,"d":0.06},{"x1":45,"x2":60,"y1":93,"y2":93.5,"d":0.03},
      {"x1":-56,"x2":-41,"y1":93.5,"y2":94,"d":0.032},{"x1":-41,"x2":-29,"y1":93.5,"y2":94,"d":0.064},{"x1":-29,"x2":-22,"y1":93.5,"y2":94,"d":0.129},{"x1":-22,"x2":-17,"y1":93.5,"y2":94,"d":0.23},{"x1":-17,"x2":-13,"y1":93.5,"y2":94,"d":0.368},{"x1":-13,"x2":-9,"y1":93.5,"y2":94,"d":0.552},{"x1":-9,"x2":-5,"y1":93.5,"y2":94,"d":0.736},{"x1":-5,"x2":-1,"y1":93.5,"y2":94,"d":0.865},{"x1":-1,"x2":5,"y1":93.5,"y2":94,"d":0.92},{"x1":5,"x2":9,"y1":93.5,"y2":94,"d":0.865},{"x1":9,"x2":13,"y1":93.5,"y2":94,"d":0.736},{"x1":13,"x2":17,"y1":93.5,"y2":94,"d":0.552},{"x1":17,"x2":21,"y1":93.5,"y2":94,"d":0.368},{"x1":21,"x2":26,"y1":93.5,"y2":94,"d":0.23},{"x1":26,"x2":33,"y1":93.5,"y2":94,"d":0.129},{"x1":33,"x2":45,"y1":93.5,"y2":94,"d":0.064},{"x1":45,"x2":60,"y1":93.5,"y2":94,"d":0.032},
      {"x1":-56,"x2":-41,"y1":94,"y2":94.5,"d":0.034},{"x1":-41,"x2":-29,"y1":94,"y2":94.5,"d":0.068},{"x1":-29,"x2":-22,"y1":94,"y2":94.5,"d":0.136},{"x1":-22,"x2":-17,"y1":94,"y2":94.5,"d":0.243},{"x1":-17,"x2":-13,"y1":94,"y2":94.5,"d":0.388},{"x1":-13,"x2":-9,"y1":94,"y2":94.5,"d":0.582},{"x1":-9,"x2":-5,"y1":94,"y2":94.5,"d":0.776},{"x1":-5,"x2":-1,"y1":94,"y2":94.5,"d":0.912},{"x1":-1,"x2":5,"y1":94,"y2":94.5,"d":0.97},{"x1":5,"x2":9,"y1":94,"y2":94.5,"d":0.912},{"x1":9,"x2":13,"y1":94,"y2":94.5,"d":0.776},{"x1":13,"x2":17,"y1":94,"y2":94.5,"d":0.582},{"x1":17,"x2":21,"y1":94,"y2":94.5,"d":0.388},{"x1":21,"x2":26,"y1":94,"y2":94.5,"d":0.243},{"x1":26,"x2":33,"y1":94,"y2":94.5,"d":0.136},{"x1":33,"x2":45,"y1":94,"y2":94.5,"d":0.068},{"x1":45,"x2":60,"y1":94,"y2":94.5,"d":0.034},
      {"x1":-56,"x2":-41,"y1":94.5,"y2":95,"d":0.035},{"x1":-41,"x2":-29,"y1":94.5,"y2":95,"d":0.07},{"x1":-29,"x2":-22,"y1":94.5,"y2":95,"d":0.14},{"x1":-22,"x2":-17,"y1":94.5,"y2":95,"d":0.25},{"x1":-17,"x2":-13,"y1":94.5,"y2":95,"d":0.4},{"x1":-13,"x2":-9,"y1":94.5,"y2":95,"d":0.6},{"x1":-9,"x2":-5,"y1":94.5,"y2":95,"d":0.8},{"x1":-5,"x2":-1,"y1":94.5,"y2":95,"d":0.94},{"x1":-1,"x2":5,"y1":94.5,"y2":95,"d":1.0},{"x1":5,"x2":9,"y1":94.5,"y2":95,"d":0.94},{"x1":9,"x2":13,"y1":94.5,"y2":95,"d":0.8},{"x1":13,"x2":17,"y1":94.5,"y2":95,"d":0.6},{"x1":17,"x2":21,"y1":94.5,"y2":95,"d":0.4},{"x1":21,"x2":26,"y1":94.5,"y2":95,"d":0.25},{"x1":26,"x2":33,"y1":94.5,"y2":95,"d":0.14},{"x1":33,"x2":45,"y1":94.5,"y2":95,"d":0.07},{"x1":45,"x2":60,"y1":94.5,"y2":95,"d":0.035},
      {"x1":-56,"x2":-41,"y1":95,"y2":95.5,"d":0.035},{"x1":-41,"x2":-29,"y1":95,"y2":95.5,"d":0.069},{"x1":-29,"x2":-22,"y1":95,"y2":95.5,"d":0.139},{"x1":-22,"x2":-17,"y1":95,"y2":95.5,"d":0.248},{"x1":-17,"x2":-13,"y1":95,"y2":95.5,"d":0.396},{"x1":-13,"x2":-9,"y1":95,"y2":95.5,"d":0.594},{"x1":-9,"x2":-5,"y1":95,"y2":95.5,"d":0.792},{"x1":-5,"x2":-1,"y1":95,"y2":95.5,"d":0.931},{"x1":-1,"x2":5,"y1":95,"y2":95.5,"d":0.99},{"x1":5,"x2":9,"y1":95,"y2":95.5,"d":0.931},{"x1":9,"x2":13,"y1":95,"y2":95.5,"d":0.792},{"x1":13,"x2":17,"y1":95,"y2":95.5,"d":0.594},{"x1":17,"x2":21,"y1":95,"y2":95.5,"d":0.396},{"x1":21,"x2":26,"y1":95,"y2":95.5,"d":0.248},{"x1":26,"x2":33,"y1":95,"y2":95.5,"d":0.139},{"x1":33,"x2":45,"y1":95,"y2":95.5,"d":0.069},{"x1":45,"x2":60,"y1":95,"y2":95.5,"d":0.035},
      {"x1":-56,"x2":-41,"y1":95.5,"y2":96,"d":0.033},{"x1":-41,"x2":-29,"y1":95.5,"y2":96,"d":0.066},{"x1":-29,"x2":-22,"y1":95.5,"y2":96,"d":0.132},{"x1":-22,"x2":-17,"y1":95.5,"y2":96,"d":0.235},{"x1":-17,"x2":-13,"y1":95.5,"y2":96,"d":0.376},{"x1":-13,"x2":-9,"y1":95.5,"y2":96,"d":0.564},{"x1":-9,"x2":-5,"y1":95.5,"y2":96,"d":0.752},{"x1":-5,"x2":-1,"y1":95.5,"y2":96,"d":0.884},{"x1":-1,"x2":5,"y1":95.5,"y2":96,"d":0.94},{"x1":5,"x2":9,"y1":95.5,"y2":96,"d":0.884},{"x1":9,"x2":13,"y1":95.5,"y2":96,"d":0.752},{"x1":13,"x2":17,"y1":95.5,"y2":96,"d":0.564},{"x1":17,"x2":21,"y1":95.5,"y2":96,"d":0.376},{"x1":21,"x2":26,"y1":95.5,"y2":96,"d":0.235},{"x1":26,"x2":33,"y1":95.5,"y2":96,"d":0.132},{"x1":33,"x2":45,"y1":95.5,"y2":96,"d":0.066},{"x1":45,"x2":60,"y1":95.5,"y2":96,"d":0.033},
      {"x1":-56,"x2":-41,"y1":96,"y2":96.5,"d":0.031},{"x1":-41,"x2":-29,"y1":96,"y2":96.5,"d":0.062},{"x1":-29,"x2":-22,"y1":96,"y2":96.5,"d":0.123},{"x1":-22,"x2":-17,"y1":96,"y2":96.5,"d":0.22},{"x1":-17,"x2":-13,"y1":96,"y2":96.5,"d":0.352},{"x1":-13,"x2":-9,"y1":96,"y2":96.5,"d":0.528},{"x1":-9,"x2":-5,"y1":96,"y2":96.5,"d":0.704},{"x1":-5,"x2":-1,"y1":96,"y2":96.5,"d":0.827},{"x1":-1,"x2":5,"y1":96,"y2":96.5,"d":0.88},{"x1":5,"x2":9,"y1":96,"y2":96.5,"d":0.827},{"x1":9,"x2":13,"y1":96,"y2":96.5,"d":0.704},{"x1":13,"x2":17,"y1":96,"y2":96.5,"d":0.528},{"x1":17,"x2":21,"y1":96,"y2":96.5,"d":0.352},{"x1":21,"x2":26,"y1":96,"y2":96.5,"d":0.22},{"x1":26,"x2":33,"y1":96,"y2":96.5,"d":0.123},{"x1":33,"x2":45,"y1":96,"y2":96.5,"d":0.062},{"x1":45,"x2":60,"y1":96,"y2":96.5,"d":0.031},
      {"x1":-56,"x2":-41,"y1":96.5,"y2":97,"d":0.03},{"x1":-41,"x2":-29,"y1":96.5,"y2":97,"d":0.06},{"x1":-29,"x2":-22,"y1":96.5,"y2":97,"d":0.12},{"x1":-22,"x2":-17,"y1":96.5,"y2":97,"d":0.215},{"x1":-17,"x2":-13,"y1":96.5,"y2":97,"d":0.344},{"x1":-13,"x2":-9,"y1":96.5,"y2":97,"d":0.516},{"x1":-9,"x2":-5,"y1":96.5,"y2":97,"d":0.688},{"x1":-5,"x2":-1,"y1":96.5,"y2":97,"d":0.808},{"x1":-1,"x2":5,"y1":96.5,"y2":97,"d":0.86},{"x1":5,"x2":9,"y1":96.5,"y2":97,"d":0.808},{"x1":9,"x2":13,"y1":96.5,"y2":97,"d":0.688},{"x1":13,"x2":17,"y1":96.5,"y2":97,"d":0.516},{"x1":17,"x2":21,"y1":96.5,"y2":97,"d":0.344},{"x1":21,"x2":26,"y1":96.5,"y2":97,"d":0.215},{"x1":26,"x2":33,"y1":96.5,"y2":97,"d":0.12},{"x1":33,"x2":45,"y1":96.5,"y2":97,"d":0.06},{"x1":45,"x2":60,"y1":96.5,"y2":97,"d":0.03},
      {"x1":-56,"x2":-41,"y1":97,"y2":97.5,"d":0.03},{"x1":-41,"x2":-29,"y1":97,"y2":97.5,"d":0.061},{"x1":-29,"x2":-22,"y1":97,"y2":97.5,"d":0.122},{"x1":-22,"x2":-17,"y1":97,"y2":97.5,"d":0.218},{"x1":-17,"x2":-13,"y1":97,"y2":97.5,"d":0.348},{"x1":-13,"x2":-9,"y1":97,"y2":97.5,"d":0.522},{"x1":-9,"x2":-5,"y1":97,"y2":97.5,"d":0.696},{"x1":-5,"x2":-1,"y1":97,"y2":97.5,"d":0.818},{"x1":-1,"x2":5,"y1":97,"y2":97.5,"d":0.87},{"x1":5,"x2":9,"y1":97,"y2":97.5,"d":0.818},{"x1":9,"x2":13,"y1":97,"y2":97.5,"d":0.696},{"x1":13,"x2":17,"y1":97,"y2":97.5,"d":0.522},{"x1":17,"x2":21,"y1":97,"y2":97.5,"d":0.348},{"x1":21,"x2":26,"y1":97,"y2":97.5,"d":0.218},{"x1":26,"x2":33,"y1":97,"y2":97.5,"d":0.122},{"x1":33,"x2":45,"y1":97,"y2":97.5,"d":0.061},{"x1":45,"x2":60,"y1":97,"y2":97.5,"d":0.03},
      {"x1":-56,"x2":-41,"y1":97.5,"y2":98,"d":0.03},{"x1":-41,"x2":-29,"y1":97.5,"y2":98,"d":0.06},{"x1":-29,"x2":-22,"y1":97.5,"y2":98,"d":0.119},{"x1":-22,"x2":-17,"y1":97.5,"y2":98,"d":0.213},{"x1":-17,"x2":-13,"y1":97.5,"y2":98,"d":0.34},{"x1":-13,"x2":-9,"y1":97.5,"y2":98,"d":0.51},{"x1":-9,"x2":-5,"y1":97.5,"y2":98,"d":0.68},{"x1":-5,"x2":-1,"y1":97.5,"y2":98,"d":0.799},{"x1":-1,"x2":5,"y1":97.5,"y2":98,"d":0.85},{"x1":5,"x2":9,"y1":97.5,"y2":98,"d":0.799},{"x1":9,"x2":13,"y1":97.5,"y2":98,"d":0.68},{"x1":13,"x2":17,"y1":97.5,"y2":98,"d":0.51},{"x1":17,"x2":21,"y1":97.5,"y2":98,"d":0.34},{"x1":21,"x2":26,"y1":97.5,"y2":98,"d":0.213},{"x1":26,"x2":33,"y1":97.5,"y2":98,"d":0.119},{"x1":33,"x2":45,"y1":97.5,"y2":98,"d":0.06},{"x1":45,"x2":60,"y1":97.5,"y2":98,"d":0.03},
      {"x1":-56,"x2":-41,"y1":98,"y2":98.5,"d":0.027},{"x1":-41,"x2":-29,"y1":98,"y2":98.5,"d":0.055},{"x1":-29,"x2":-22,"y1":98,"y2":98.5,"d":0.109},{"x1":-22,"x2":-17,"y1":98,"y2":98.5,"d":0.195},{"x1":-17,"x2":-13,"y1":98,"y2":98.5,"d":0.312},{"x1":-13,"x2":-9,"y1":98,"y2":98.5,"d":0.468},{"x1":-9,"x2":-5,"y1":98,"y2":98.5,"d":0.624},{"x1":-5,"x2":-1,"y1":98,"y2":98.5,"d":0.733},{"x1":-1,"x2":5,"y1":98,"y2":98.5,"d":0.78},{"x1":5,"x2":9,"y1":98,"y2":98.5,"d":0.733},{"x1":9,"x2":13,"y1":98,"y2":98.5,"d":0.624},{"x1":13,"x2":17,"y1":98,"y2":98.5,"d":0.468},{"x1":17,"x2":21,"y1":98,"y2":98.5,"d":0.312},{"x1":21,"x2":26,"y1":98,"y2":98.5,"d":0.195},{"x1":26,"x2":33,"y1":98,"y2":98.5,"d":0.109},{"x1":33,"x2":45,"y1":98,"y2":98.5,"d":0.055},{"x1":45,"x2":60,"y1":98,"y2":98.5,"d":0.027},
      {"x1":-56,"x2":-41,"y1":98.5,"y2":99,"d":0.022},{"x1":-41,"x2":-29,"y1":98.5,"y2":99,"d":0.045},{"x1":-29,"x2":-22,"y1":98.5,"y2":99,"d":0.09},{"x1":-22,"x2":-17,"y1":98.5,"y2":99,"d":0.16},{"x1":-17,"x2":-13,"y1":98.5,"y2":99,"d":0.256},{"x1":-13,"x2":-9,"y1":98.5,"y2":99,"d":0.384},{"x1":-9,"x2":-5,"y1":98.5,"y2":99,"d":0.512},{"x1":-5,"x2":-1,"y1":98.5,"y2":99,"d":0.602},{"x1":-1,"x2":5,"y1":98.5,"y2":99,"d":0.64},{"x1":5,"x2":9,"y1":98.5,"y2":99,"d":0.602},{"x1":9,"x2":13,"y1":98.5,"y2":99,"d":0.512},{"x1":13,"x2":17,"y1":98.5,"y2":99,"d":0.384},{"x1":17,"x2":21,"y1":98.5,"y2":99,"d":0.256},{"x1":21,"x2":26,"y1":98.5,"y2":99,"d":0.16},{"x1":26,"x2":33,"y1":98.5,"y2":99,"d":0.09},{"x1":33,"x2":45,"y1":98.5,"y2":99,"d":0.045},{"x1":45,"x2":60,"y1":98.5,"y2":99,"d":0.022},
      {"x1":-56,"x2":-41,"y1":99,"y2":99.5,"d":0.013},{"x1":-41,"x2":-29,"y1":99,"y2":99.5,"d":0.027},{"x1":-29,"x2":-22,"y1":99,"y2":99.5,"d":0.053},{"x1":-22,"x2":-17,"y1":99,"y2":99.5,"d":0.095},{"x1":-17,"x2":-13,"y1":99,"y2":99.5,"d":0.152},{"x1":-13,"x2":-9,"y1":99,"y2":99.5,"d":0.228},{"x1":-9,"x2":-5,"y1":99,"y2":99.5,"d":0.304},{"x1":-5,"x2":-1,"y1":99,"y2":99.5,"d":0.357},{"x1":-1,"x2":5,"y1":99,"y2":99.5,"d":0.38},{"x1":5,"x2":9,"y1":99,"y2":99.5,"d":0.357},{"x1":9,"x2":13,"y1":99,"y2":99.5,"d":0.304},{"x1":13,"x2":17,"y1":99,"y2":99.5,"d":0.228},{"x1":17,"x2":21,"y1":99,"y2":99.5,"d":0.152},{"x1":21,"x2":26,"y1":99,"y2":99.5,"d":0.095},{"x1":26,"x2":33,"y1":99,"y2":99.5,"d":0.053},{"x1":33,"x2":45,"y1":99,"y2":99.5,"d":0.027},{"x1":45,"x2":60,"y1":99,"y2":99.5,"d":0.013},
      {"x1":-41,"x2":-29,"y1":99.5,"y2":100,"d":0.011},{"x1":-29,"x2":-22,"y1":99.5,"y2":100,"d":0.021},{"x1":-22,"x2":-17,"y1":99.5,"y2":100,"d":0.038},{"x1":-17,"x2":-13,"y1":99.5,"y2":100,"d":0.06},{"x1":-13,"x2":-9,"y1":99.5,"y2":100,"d":0.09},{"x1":-9,"x2":-5,"y1":99.5,"y2":100,"d":0.12},{"x1":-5,"x2":-1,"y1":99.5,"y2":100,"d":0.141},{"x1":-1,"x2":5,"y1":99.5,"y2":100,"d":0.15},{"x1":5,"x2":9,"y1":99.5,"y2":100,"d":0.141},{"x1":9,"x2":13,"y1":99.5,"y2":100,"d":0.12},{"x1":13,"x2":17,"y1":99.5,"y2":100,"d":0.09},{"x1":17,"x2":21,"y1":99.5,"y2":100,"d":0.06},{"x1":21,"x2":26,"y1":99.5,"y2":100,"d":0.038},{"x1":26,"x2":33,"y1":99.5,"y2":100,"d":0.021},{"x1":33,"x2":45,"y1":99.5,"y2":100,"d":0.011}
    ],
    "scoreDens": [
      {"score":80.56,"density":0},{"score":81.5,"density":0.0001},{"score":82.1,"density":0.0003},{"score":82.74,"density":0.0009},{"score":83.2,"density":0.0016},{"score":83.55,"density":0.0023},{"score":84.03,"density":0.0025},{"score":84.5,"density":0.0028},{"score":85.0,"density":0.0032},{"score":85.65,"density":0.004},{"score":86.2,"density":0.0051},{"score":86.6,"density":0.0074},{"score":87.1,"density":0.012},{"score":87.58,"density":0.0137},{"score":88.06,"density":0.0149},{"score":88.55,"density":0.0169},{"score":88.95,"density":0.0194},{"score":89.35,"density":0.0246},{"score":89.68,"density":0.0309},{"score":90.0,"density":0.0378},{"score":90.48,"density":0.0458},{"score":90.81,"density":0.0526},{"score":91.29,"density":0.064},{"score":91.77,"density":0.0755},{"score":92.26,"density":0.087},{"score":92.58,"density":0.0984},{"score":92.9,"density":0.112},{"score":93.23,"density":0.1259},{"score":93.55,"density":0.135},{"score":94.03,"density":0.1419},{"score":94.52,"density":0.1473},{"score":94.7,"density":0.1475},{"score":94.84,"density":0.1465},{"score":95.16,"density":0.1419},{"score":95.48,"density":0.1304},{"score":95.81,"density":0.1201},{"score":96.13,"density":0.1133},{"score":96.45,"density":0.111},{"score":96.77,"density":0.1116},{"score":97.26,"density":0.1121},{"score":97.58,"density":0.1104},{"score":97.9,"density":0.103},{"score":98.23,"density":0.0847},{"score":98.55,"density":0.064},{"score":98.87,"density":0.0458},{"score":99.19,"density":0.0286},{"score":99.52,"density":0.016},{"score":99.84,"density":0.0069},{"score":100.16,"density":0.0023},{"score":100.65,"density":0.0003},{"score":101.37,"density":0}
    ],
    "distDens": [
      {"dist":-502,"density":0},{"dist":-495,"density":0.00013},{"dist":-488,"density":0.00019},{"dist":-480,"density":0.00011},{"dist":-473,"density":0.00016},{"dist":-466,"density":0.00024},{"dist":-452,"density":0.0002},{"dist":-445,"density":0.00018},{"dist":-438,"density":0.00027},{"dist":-427,"density":0.0002},{"dist":-415,"density":0.00024},{"dist":-403,"density":0.0003},{"dist":-389,"density":0.00016},{"dist":-378,"density":0.00028},{"dist":-367,"density":0.00017},{"dist":-353,"density":0.00022},{"dist":-343,"density":0.00015},{"dist":-332,"density":0.00025},{"dist":-322,"density":0.00008},{"dist":-310,"density":0.0002},{"dist":-297,"density":0.00028},{"dist":-287,"density":0.00015},{"dist":-276,"density":0.0002},{"dist":-265,"density":0.00025},{"dist":-254,"density":0.00031},{"dist":-243,"density":0.00024},{"dist":-233,"density":0.00047},{"dist":-219,"density":0.00031},{"dist":-205,"density":0.0002},{"dist":-194,"density":0.00011},{"dist":-186,"density":0.00025},{"dist":-177,"density":0.00019},{"dist":-163,"density":0.00031},{"dist":-152,"density":0.00013},{"dist":-142,"density":0.00025},{"dist":-134,"density":0.00043},{"dist":-120,"density":0.00031},{"dist":-113,"density":0.00045},{"dist":-106,"density":0.00036},{"dist":-99,"density":0.0005},{"dist":-92,"density":0.0006},{"dist":-85,"density":0.00062},{"dist":-78,"density":0.00066},{"dist":-67,"density":0.00076},{"dist":-57,"density":0.00116},{"dist":-44,"density":0.00148},{"dist":-37,"density":0.002},{"dist":-30,"density":0.00295},{"dist":-23,"density":0.0048},{"dist":-16,"density":0.0079},{"dist":-9,"density":0.0126},{"dist":-3,"density":0.0172},{"dist":0,"density":0.0203},{"dist":3,"density":0.0226},{"dist":5,"density":0.0224},{"dist":9,"density":0.0188},{"dist":12,"density":0.0126},{"dist":19,"density":0.0064},{"dist":30,"density":0.00326},{"dist":40,"density":0.00233},{"dist":50,"density":0.00179},{"dist":61,"density":0.00109},{"dist":70,"density":0.00085},{"dist":78,"density":0.00071},{"dist":88,"density":0.0007},{"dist":99,"density":0.0006},{"dist":106,"density":0.00028},{"dist":114,"density":0.00025},{"dist":127,"density":0.00031},{"dist":134,"density":0.0002},{"dist":141,"density":0.00016},{"dist":148,"density":0.00028},{"dist":155,"density":0.00035},{"dist":162,"density":0.00013},{"dist":170,"density":0.00035},{"dist":177,"density":0.00013},{"dist":187,"density":0.00039},{"dist":195,"density":0.00022},{"dist":205,"density":0.00019},{"dist":215,"density":0.0001},{"dist":226,"density":0.00019},{"dist":233,"density":0.00025},{"dist":240,"density":0.00016},{"dist":258,"density":0.00022},{"dist":276,"density":0.00035},{"dist":290,"density":0.00019},{"dist":300,"density":0.00025},{"dist":311,"density":0.00008},{"dist":325,"density":0.00024},{"dist":335,"density":0.00015},{"dist":346,"density":0.00028},{"dist":356,"density":0.00022},{"dist":367,"density":0.0002},{"dist":380,"density":0.00012},{"dist":396,"density":0.00024},{"dist":410,"density":0.00024},{"dist":424,"density":0.0002},{"dist":437,"density":0.00022},{"dist":449,"density":0.00008},{"dist":459,"density":0.00027},{"dist":467,"density":0.00024},{"dist":473,"density":0.00016},{"dist":480,"density":0.00012},{"dist":488,"density":0.00028},{"dist":498,"density":0.00016},{"dist":507,"density":0}
    ]
  },
  "concat": [
    {
      "width": 532, "height": 532,
      "title": "Top hit for each peak",
      "layer": [
        {
          "data": {"name": "hits"},
          "mark": {"type": "square", "size": 6, "color": "#000000", "opacity": 1},
          "encoding": {
            "x": {"field": "x", "type": "quantitative", "scale": {"domain": [-535, 540], "nice": false, "zero": false},
                  "axis": {"title": "Distance to peak summit", "values": [-400, -200, 0, 200, 400], "labelExpr": "'' + datum.value"}},
            "y": {"field": "y", "type": "quantitative", "scale": {"domain": [81.3, 100.73], "nice": false, "zero": false},
                  "axis": {"title": "Motif score", "values": [85, 90, 95, 100]}}
          }
        },
        {
          "data": {"values": [{"zone": -72.5}, {"zone": 72.5}]},
          "mark": {"type": "rule", "color": "#0b6e0b", "strokeWidth": 2.5, "strokeDash": [12, 6]},
          "encoding": {"x": {"field": "zone", "type": "quantitative"}}
        },
        {
          "data": {"values": [{"threshold": 89.4}]},
          "mark": {"type": "rule", "color": "#dd2222", "strokeWidth": 2.5, "strokeDash": [13, 6]},
          "encoding": {"y": {"field": "threshold", "type": "quantitative"}}
        }
      ]
    },
    {
      "width": 532, "height": 532,
      "title": {"text": "Density heat map for the top hits", "offset": 1.5},
      "layer": [
        {
          "data": {"name": "heat"},
          "mark": {"type": "rect", "strokeWidth": 0.8},
          "encoding": {
            "x": {"field": "x1", "type": "quantitative", "scale": {"domain": [-495, 497], "nice": false, "zero": false},
                  "axis": {"title": "Distance to peak summit", "values": [-400, -200, 0, 200, 400], "labelExpr": "'' + datum.value"}},
            "x2": {"field": "x2"},
            "y": {"field": "y1", "type": "quantitative", "scale": {"domain": [82, 100], "nice": false, "zero": false},
                  "axis": {"title": "Motif score", "values": [85, 90, 95, 100]}},
            "y2": {"field": "y2"},
            "color": {"field": "d", "type": "quantitative", "scale": {"domain": [0, 0.5, 1], "range": ["#ffffff", "#0000ff", "#ff0000"], "interpolate": "rgb"}, "legend": null},
            "stroke": {"field": "d", "type": "quantitative", "scale": {"domain": [0, 0.5, 1], "range": ["#ffffff", "#0000ff", "#ff0000"], "interpolate": "rgb"}, "legend": null}
          }
        },
        {
          "data": {"values": [{"zone": -72.5}, {"zone": 72.5}]},
          "mark": {"type": "rule", "color": "#0b7a0b", "strokeWidth": 1.3, "strokeDash": [6, 4]},
          "encoding": {"x": {"field": "zone", "type": "quantitative"}}
        },
        {
          "data": {"values": [{"threshold": 89.4}]},
          "mark": {"type": "rule", "color": "#cc3333", "strokeWidth": 1.2, "strokeDash": [7, 4]},
          "encoding": {"y": {"field": "threshold", "type": "quantitative"}}
        }
      ]
    },
    {
      "width": 532, "height": 532,
      "title": "Motif score threshold: 89.400",
      "layer": [
        {
          "data": {"name": "scoreDens"},
          "mark": {"type": "area", "color": "#f5deb3", "interpolate": "monotone"},
          "encoding": {
            "x": {"field": "score", "type": "quantitative", "scale": {"domain": [79.79, 102.24], "nice": false, "zero": false},
                  "axis": {"title": "Motif score", "values": [80, 85, 90, 95, 100]}},
            "y": {"field": "density", "type": "quantitative", "scale": {"domain": [-0.0057, 0.1539], "nice": false, "zero": false},
                  "axis": {"title": "Density", "values": [0, 0.05, 0.1, 0.15], "format": ".2f"}},
            "y2": {"datum": 0}
          }
        },
        {
          "data": {"name": "scoreDens"},
          "mark": {"type": "line", "color": "#000000", "strokeWidth": 1.3, "interpolate": "monotone"},
          "encoding": {
            "x": {"field": "score", "type": "quantitative"},
            "y": {"field": "density", "type": "quantitative"}
          }
        },
        {
          "data": {"values": [{"from": 80.56, "to": 101.37, "level": 0}]},
          "mark": {"type": "rule", "color": "#000000", "strokeWidth": 1.3},
          "encoding": {
            "x": {"field": "from", "type": "quantitative"},
            "x2": {"field": "to"},
            "y": {"field": "level", "type": "quantitative"}
          }
        },
        {
          "data": {"values": [{"threshold": 89.4}]},
          "mark": {"type": "rule", "color": "#e03a3a", "strokeWidth": 1.5, "strokeDash": [7, 4]},
          "encoding": {"x": {"field": "threshold", "type": "quantitative"}}
        }
      ]
    },
    {
      "width": 532, "height": 532,
      "title": "Enrichment zone: 72.50",
      "layer": [
        {
          "data": {"name": "distDens"},
          "mark": {"type": "area", "color": "#f5deb3"},
          "encoding": {
            "x": {"field": "dist", "type": "quantitative", "scale": {"domain": [-548, 548], "nice": false, "zero": false},
                  "axis": {"title": "Distance to peak summit", "values": [-400, -200, 0, 200, 400], "labelExpr": "'' + datum.value"}},
            "y": {"field": "density", "type": "quantitative", "scale": {"domain": [-0.00087, 0.02359], "nice": false, "zero": false},
                  "axis": {"title": "Density", "values": [0, 0.005, 0.01, 0.015, 0.02], "format": ".3f"}},
            "y2": {"datum": 0}
          }
        },
        {
          "data": {"name": "distDens"},
          "mark": {"type": "line", "color": "#000000", "strokeWidth": 1.3},
          "encoding": {
            "x": {"field": "dist", "type": "quantitative"},
            "y": {"field": "density", "type": "quantitative"}
          }
        },
        {
          "data": {"values": [{"from": -502, "to": 507, "level": 0}]},
          "mark": {"type": "rule", "color": "#000000", "strokeWidth": 1.3},
          "encoding": {
            "x": {"field": "from", "type": "quantitative"},
            "x2": {"field": "to"},
            "y": {"field": "level", "type": "quantitative"}
          }
        },
        {
          "data": {"values": [{"zone": -72.5}, {"zone": 72.5}]},
          "mark": {"type": "rule", "color": "#2a8a2a", "strokeWidth": 1.5, "strokeDash": [7, 4]},
          "encoding": {"x": {"field": "zone", "type": "quantitative"}}
        },
        {
          "data": {"values": [{}]},
          "mark": {"type": "rule", "color": "#2a8a2a", "strokeWidth": 1, "strokeDash": [2, 3]},
          "encoding": {"x": {"datum": 109}, "x2": {"datum": 158}, "y": {"datum": 0.02276}}
        },
        {
          "data": {"values": [{}]},
          "mark": {"type": "rule", "color": "#f08080", "strokeWidth": 1, "strokeDash": [2, 3]},
          "encoding": {"x": {"datum": 109}, "x2": {"datum": 158}, "y": {"datum": 0.02202}}
        },
        {
          "data": {"values": [{}]},
          "mark": {"type": "circle", "color": "#0000ff", "size": 28, "opacity": 1},
          "encoding": {"x": {"datum": 134}, "y": {"datum": 0.02129}}
        },
        {
          "data": {"values": [
            {"label": "enrichment zone = 72.5", "pos": 0.02276},
            {"label": "motif score threshold = 89.400", "pos": 0.02202},
            {"label": "centrality p-val = -90.5719", "pos": 0.02129}
          ]},
          "mark": {"type": "text", "align": "left", "baseline": "middle", "fontSize": 12.5, "font": "Liberation Sans", "color": "#000000"},
          "encoding": {"x": {"datum": 179}, "y": {"field": "pos", "type": "quantitative"}, "text": {"field": "label"}}
        }
      ]
    }
  ],
  "config": {
    "font": "Liberation Sans",
    "view": {"stroke": "#555555", "strokeWidth": 1},
    "axis": {"domain": false, "grid": false, "ticks": true, "tickColor": "#555555", "tickSize": 6, "tickWidth": 1,
             "labelFont": "Liberation Sans", "labelFontSize": 10.5, "labelColor": "#222222", "labelPadding": 8,
             "labelFlush": false, "labelOverlap": false,
             "titleFont": "Liberation Sans", "titleFontSize": 16, "titleFontWeight": "normal", "titleColor": "#000000", "titlePadding": 10},
    "axisY": {"labelAngle": 270, "labelAlign": "center", "labelBaseline": "bottom", "labelPadding": 8, "titlePadding": 11},
    "title": {"font": "Liberation Sans", "fontSize": 21.5, "fontWeight": "bold", "color": "#000000", "frame": "group", "offset": 9}
  }
}
